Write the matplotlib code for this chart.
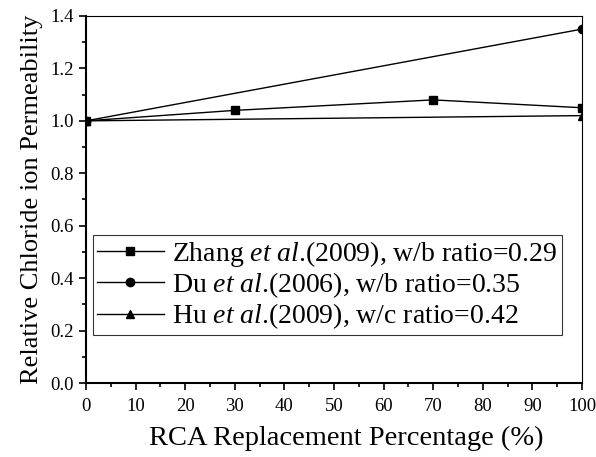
import matplotlib

matplotlib.use("Agg")
import matplotlib.pyplot as plt
from matplotlib.ticker import MultipleLocator

# data
zhang_x = [0, 30, 70, 100]
zhang_y = [1.0, 1.04, 1.08, 1.05]
du_x = [0, 100]
du_y = [1.0, 1.35]
hu_x = [0, 100]
hu_y = [1.0, 1.02]
labels = [
    r"Zhang $\it{et\ al}$.(2009), w/b ratio=0.29",
    r"Du $\it{et\ al}$.(2006), w/b ratio=0.35",
    r"Hu $\it{et\ al}$.(2009), w/c ratio=0.42",
]

plt.rcParams.update({"font.family": "Liberation Serif", "mathtext.fontset": "custom",
                     "mathtext.rm": "Liberation Serif", "mathtext.it": "Liberation Serif:italic"})

fig = plt.figure(figsize=(5.96, 4.57), dpi=100)
ax = fig.add_axes([86 / 596, 1 - 383 / 457, (582 - 86) / 596, (383 - 16) / 457])

kw = dict(color="black", lw=1.0, ms=6)
ax.plot(zhang_x, zhang_y, marker="s", label=labels[0], **kw)
ax.plot(du_x, du_y, marker="o", label=labels[1], **kw)
ax.plot(hu_x, hu_y, marker="^", label=labels[2], **kw)

ax.set_xlim(0, 100)
ax.set_ylim(0, 1.4)
ax.xaxis.set_major_locator(MultipleLocator(10))
ax.xaxis.set_minor_locator(MultipleLocator(5))
ax.yaxis.set_major_locator(MultipleLocator(0.2))
ax.yaxis.set_minor_locator(MultipleLocator(0.1))
ax.yaxis.set_major_formatter(lambda v, p: f"{v:.1f}")
ax.tick_params(which="both", direction="out", top=False, right=False, labelsize=13.5, width=1.2)
ax.tick_params(which="major", length=5, pad=4)
ax.tick_params(axis="x", which="major", pad=6)
ax.tick_params(which="minor", length=3)
for side in ("left", "bottom"):
    ax.spines[side].set_linewidth(1.5)
for side in ("top", "right"):
    ax.spines[side].set_linewidth(0.8)

ax.set_xlabel("RCA Replacement Percentage (%)", fontsize=20.5)
ax.xaxis.set_label_coords(0.524, -0.118)
ax.set_ylabel("Relative Chloride ion Permeability", fontsize=19, labelpad=5)

leg = ax.legend(loc="lower left", bbox_to_anchor=(0.014, 0.13), fontsize=20, frameon=True,
                fancybox=False, edgecolor="black", handlelength=2.4, borderpad=0.15,
                labelspacing=0.05, handletextpad=0.3, borderaxespad=0)
leg.get_frame().set_linewidth(0.8)

fig.savefig("out.png", dpi=100)
